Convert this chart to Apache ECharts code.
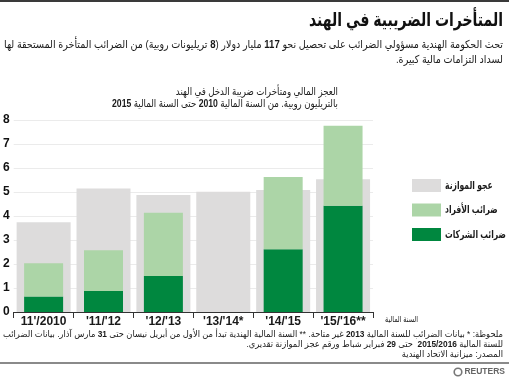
<!DOCTYPE html>
<html>
<head>
<meta charset="utf-8">
<script src="https://cdn.jsdelivr.net/npm/echarts@6/dist/echarts.min.js"></script>
<style>
html,body{margin:0;padding:0;background:#fff;}
#chart{width:509px;height:378px;}
</style>
</head>
<body>
<div id="chart"></div>
<script>
// ---- data ----
const categories = ["11'/2010", "'11/'12", "'12/'13", "'13/'14*", "'14/'15", "'15/'16**"];
const budgetDeficit = [3.74, 5.15, 4.87, 5.01, 5.08, 5.53];
const corporateTax = [0.65, 0.87, 1.50, null, 2.61, 4.43];
const individualTax = [1.38, 1.70, 2.64, null, 3.01, 3.33];
const yTicks = [0, 1, 2, 3, 4, 5, 6, 7, 8];
const seriesNames = ["عجو الموازنة", "ضرائب الأفراد", "ضرائب الشركات"];

const FONT = "'Liberation Sans', 'DejaVu Sans', Arial, sans-serif";
const RLM = '\u200F';

// logical segments -> visual rich string (tokens laid out LTR by the library)
function rtlRich(segs) {
  return segs.slice().reverse().map(function (s) {
    return s.b ? '{b|' + s.t + '}' : '{r|' + RLM + s.t + RLM + '}';
  }).join('');
}

const mctx = document.createElement('canvas').getContext('2d');
function segWidth(segs, size, boldAll) {
  let w = 0;
  segs.forEach(function (s) {
    mctx.font = ((s.b || boldAll) ? 'bold ' : '') + size + 'px ' + FONT;
    w += mctx.measureText(s.b ? s.t : RLM + s.t + RLM).width;
  });
  return w;
}
function fitScale(segs, size, target, boldAll) {
  return Math.min(1, target / segWidth(segs, size, boldAll));
}

const chart = echarts.init(document.getElementById('chart'), null, {renderer: 'canvas'});

function richStyles(size, color, boldAll) {
  return {
    r: {fontSize: size, fontFamily: FONT, fill: color, fontWeight: boldAll ? 'bold' : 'normal'},
    b: {fontSize: size, fontFamily: FONT, fill: color, fontWeight: 'bold'}
  };
}

function txt(x, y, segs, size, opts) {
  opts = opts || {};
  const color = opts.color || '#1a1a1a';
  return {
    type: 'text', x: x, y: y, silent: true,
    scaleX: opts.scaleX || 1,
    style: {
      text: rtlRich(segs),
      align: opts.align || 'right',
      verticalAlign: 'middle',
      fontSize: size,
      fontFamily: FONT,
      fontWeight: opts.bold ? 'bold' : 'normal',
      fill: color,
      rich: richStyles(size, color, opts.bold)
    }
  };
}

// text content (logical order)
const titleSegs = [{t: 'المتأخرات الضريبية في الهند'}];
const sub1 = [
  {t: 'تحث الحكومة الهندية مسؤولي الضرائب على تحصيل نحو '},
  {t: '117', b: 1},
  {t: ' مليار دولار ('},
  {t: '8', b: 1},
  {t: ' تريليونات روبية) من الضرائب المتأخرة المستحقة لها'}
];
const sub2 = [{t: 'لسداد التزامات مالية كبيرة.'}];
const ct1 = [{t: 'العجز المالي ومتأخرات ضريبة الدخل في الهند'}];
const ct2 = [
  {t: 'بالتريليون روبية. من السنة المالية '},
  {t: '2010', b: 1},
  {t: ' حتى السنة المالية '},
  {t: '2015', b: 1}
];
const fyLabel = [{t: 'السنة المالية'}];
const note1 = [
  {t: 'ملحوظة: * بيانات الضرائب للسنة المالية '},
  {t: '2013', b: 1},
  {t: ' غير متاحة. ** السنة المالية الهندية تبدأ من الأول من أبريل نيسان حتى '},
  {t: '31', b: 1},
  {t: ' مارس آذار. بيانات الضرائب'}
];
const note2 = [
  {t: 'للسنة المالية '},
  {t: '2015/2016', b: 1},
  {t: '  حتى '},
  {t: '29', b: 1},
  {t: ' فبراير شباط ورقم عجز الموازنة تقديري.'}
];
const note3 = [{t: 'المصدر: ميزانية الاتحاد الهندية'}];

const sTitle = fitScale(titleSegs, 19, 194, true);
const sSub = fitScale(sub1, 11, 499);
const sCt = fitScale(ct2, 10.5, 226);
const sNote = fitScale(note1, 9, 500);
const sFy = fitScale(fyLabel, 8.5, 33);
const sLeg = fitScale([{t: seriesNames[2]}], 11, 61, true);

const graphics = [
  {type: 'rect', shape: {x: 0, y: 0, width: 509, height: 2}, style: {fill: '#3a3a3a'}, silent: true},
  txt(503, 21, titleSegs, 19, {bold: true, color: '#111', scaleX: sTitle}),
  txt(503, 45, sub1, 11, {scaleX: sSub}),
  txt(503, 60, sub2, 11, {scaleX: sSub}),
  txt(338, 92, ct1, 10.5, {scaleX: sCt}),
  txt(338, 104, ct2, 10.5, {scaleX: sCt}),
  txt(418, 320, fyLabel, 8.5, {scaleX: sFy}),
  txt(503, 335, note1, 9, {scaleX: sNote}),
  txt(503, 345, note2, 9, {scaleX: sNote}),
  txt(503, 354.5, note3, 9, {scaleX: sNote}),
  {type: 'rect', shape: {x: 0, y: 362, width: 509, height: 2}, style: {fill: '#8a8a8a'}, silent: true},
  {type: 'circle', shape: {cx: 458, cy: 372, r: 3.8}, style: {fill: 'none', stroke: '#777', lineWidth: 1.6}, silent: true},
  {type: 'text', x: 505, y: 372, silent: true,
   style: {text: 'REUTERS', align: 'right', verticalAlign: 'middle', fontSize: 8.5, fontWeight: 'bold', fontFamily: FONT, fill: '#666'}}
];
// legend labels (icons come from the legend component)
seriesNames.forEach(function (n, i) {
  graphics.push(txt(445, 185.5 + i * 24.5, [{t: n}], 11, {bold: true, align: 'left', scaleX: sLeg}));
});

const option = {
  animation: false,
  textStyle: {fontFamily: FONT},
  grid: {left: 13, right: 136, top: 120, bottom: 66, containLabel: false},
  legend: {
    data: seriesNames,
    orient: 'vertical',
    left: 412, top: 179, padding: 0,
    itemWidth: 29, itemHeight: 13, itemGap: 11.5,
    icon: 'rect',
    formatter: function () { return ' '; },
    textStyle: {fontSize: 11, color: '#1a1a1a', fontFamily: FONT, lineHeight: 13},
    selectedMode: false
  },
  xAxis: [
    {
      type: 'category', data: categories, position: 'bottom',
      axisLine: {lineStyle: {color: '#333', width: 1}},
      axisTick: {show: true, length: 6, lineStyle: {color: '#333'}},
      axisLabel: {fontSize: 12, fontWeight: 'bold', color: '#1a1a1a', margin: 4, fontFamily: FONT, interval: 0}
    },
    {
      type: 'category', data: categories, position: 'bottom', show: false
    }
  ],
  yAxis: {
    type: 'value', min: yTicks[0], max: yTicks[yTicks.length - 1], interval: 1,
    axisLine: {show: false}, axisTick: {show: false},
    splitLine: {lineStyle: {color: '#ebebeb', width: 1}},
    axisLabel: {fontSize: 12, fontWeight: 'bold', color: '#111', margin: 4, fontFamily: FONT}
  },
  series: [
    {
      name: seriesNames[0], type: 'bar', xAxisIndex: 1, data: budgetDeficit,
      barWidth: 54, itemStyle: {color: '#dddcdc'}, z: 1
    },
    {
      name: seriesNames[2], type: 'bar', xAxisIndex: 0, stack: 'tax', data: corporateTax,
      barWidth: 39, itemStyle: {color: '#00873f'}, z: 2
    },
    {
      name: seriesNames[1], type: 'bar', xAxisIndex: 0, stack: 'tax', data: individualTax,
      barWidth: 39, itemStyle: {color: '#acd5a7'}, z: 2
    }
  ],
  graphic: graphics
};
chart.setOption(option);
</script>
</body>
</html>
